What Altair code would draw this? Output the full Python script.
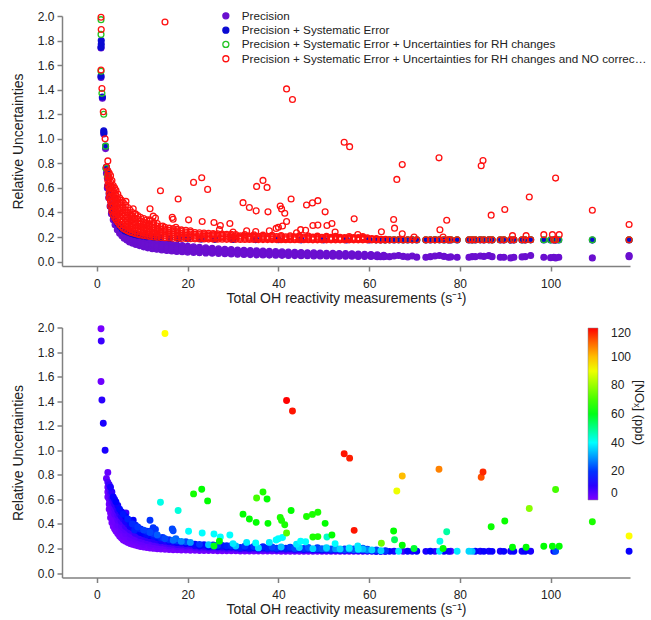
import altair as alt
import pandas as pd

SERIES = [
    "Precision",
    "Precision + Systematic Error",
    "Precision + Systematic Error + Uncertainties for RH changes",
    "Precision + Systematic Error + Uncertainties for RH changes and NO correction",
]
FILL = ["#6a0fcf", "#0a0ad2", "transparent", "transparent"]
STROKE = ["#6a0fcf", "#0a0ad2", "#25c425", "#ff1010"]

x_ticks = [0, 20, 40, 60, 80, 100]
y_ticks = [0.0, 0.2, 0.4, 0.6, 0.8, 1.0, 1.2, 1.4, 1.6, 1.8, 2.0]
nox_ticks = [0, 20, 40, 60, 80, 100, 120]

# ---------------- Precision (purple) ----------------
prec_pts_x = [0.9, 0.9, 1.2, 1.5, 1.9, 2.0, 2.1]
prec_pts_y = [1.74, 1.50, 1.33, 1.04, 0.92, 0.76, 0.72]
prec_band_x = [2.3, 2.6, 2.9, 3.2, 3.6, 4.0, 4.5, 5.0, 5.5, 6.0,
               6.6, 7.2, 7.9, 8.6, 9.4, 10.3, 11.2, 12.2, 13.2, 14.3,
               15.4, 16.5, 17.6, 18.8, 20.0, 21.3, 22.6, 24.0, 25.4, 26.8,
               28.2, 29.6, 31.0, 32.4, 33.8, 35.2, 36.6, 38.0, 39.4, 40.8,
               42.2, 43.6, 45.0, 46.4, 47.8, 49.2, 50.6, 52.0, 53.4, 54.8,
               56.2, 57.6, 59.0, 60.4, 61.8, 63.2]
prec_band_y = [
    [0.60, 0.68], [0.52, 0.60], [0.45, 0.53], [0.39, 0.47], [0.34, 0.42],
    [0.30, 0.37], [0.26, 0.32, 0.29], [0.23, 0.29, 0.26], [0.21, 0.27, 0.24], [0.19, 0.25, 0.22],
    [0.175, 0.235, 0.205], [0.16, 0.22, 0.19], [0.15, 0.21, 0.18], [0.14, 0.20, 0.17], [0.13, 0.19, 0.16],
    [0.12, 0.18, 0.15], [0.112, 0.17, 0.14], [0.105, 0.165, 0.135], [0.10, 0.16, 0.13], [0.095, 0.152, 0.123],
    [0.09, 0.146, 0.118], [0.086, 0.14, 0.113], [0.083, 0.135, 0.109], [0.08, 0.13, 0.105], [0.077, 0.125, 0.101],
    [0.074, 0.12, 0.097], [0.072, 0.116, 0.094], [0.07, 0.112, 0.091], [0.068, 0.108, 0.088], [0.066, 0.104, 0.085],
    [0.064, 0.10, 0.082], [0.062, 0.097, 0.08], [0.06, 0.094, 0.077], [0.058, 0.091, 0.075], [0.057, 0.089, 0.073],
    [0.055, 0.087, 0.071], [0.054, 0.085, 0.069], [0.053, 0.083, 0.068], [0.052, 0.081], [0.051, 0.079, 0.065],
    [0.05, 0.077], [0.049, 0.075, 0.062], [0.048, 0.074], [0.047, 0.072, 0.06], [0.046, 0.071],
    [0.046, 0.07, 0.058], [0.045, 0.068], [0.044, 0.067, 0.055], [0.044, 0.066], [0.043, 0.065, 0.054],
    [0.043, 0.064], [0.042, 0.062, 0.052], [0.042, 0.06], [0.041, 0.058, 0.05], [0.04, 0.055],
    [0.04, 0.052],
]

# sparse measurements above 60 s-1
sparse_x = [61.5, 62.5, 63.5, 64.5, 65.5, 66.5, 67.5, 68.5, 69.5, 70.5,
            72.5, 73.5, 74.5, 75.5, 76.5, 77.5, 78.0, 79.4, 82.0, 82.7,
            83.4, 84.5, 85.3, 86.4, 87.1, 88.9, 89.7, 91.2, 91.9, 93.7,
            94.4, 95.6, 98.5, 100.0, 100.7, 101.1, 101.8, 109.2, 117.3]
prec_sparse_y = [0.045, 0.04, 0.042, 0.04, 0.045, 0.05, 0.042, 0.038, 0.045, 0.036,
                 0.035, 0.04, 0.045, 0.05, 0.042, 0.035, 0.038, 0.035, 0.035, 0.04,
                 0.04, 0.045, 0.042, 0.048, 0.04, 0.035, 0.035, 0.03, 0.035, 0.038,
                 0.04, 0.05, 0.035, 0.032, 0.035, 0.03, 0.035, 0.03, 0.04]
prec_extra_x = [117.3]
prec_extra_y = [0.048]

# ---------------- Precision + Systematic (blue) ----------------
sys_x = [0.95, 0.95, 0.9, 0.9, 1.2, 1.5, 1.55, 1.9, 2.1, 2.2, 2.4, 2.7,
         3.0, 3.3, 3.7, 4.1, 4.6, 5.1, 5.6, 6.2, 6.8, 7.5,
         8.2, 9.0, 10.0, 11.0, 12.5, 14.0, 16.0, 18.0, 20.0, 23.0,
         26.0, 30.0, 35.0, 40.0, 45.0, 50.0, 55.0, 60.0]
sys_y = [1.80, 1.77, 1.745, 1.51, 1.34, 1.065, 1.05, 0.94, 0.77, 0.75, 0.62, 0.55,
         0.45, 0.41, 0.37, 0.34, 0.31, 0.285, 0.265, 0.25, 0.24, 0.23,
         0.222, 0.215, 0.208, 0.203, 0.198, 0.194, 0.19, 0.187, 0.185, 0.183,
         0.181, 0.18, 0.179, 0.178, 0.177, 0.177, 0.176, 0.176]
sys_sparse_y = [0.177, 0.176, 0.176, 0.177, 0.176, 0.177, 0.176, 0.176, 0.177, 0.176,
                0.176, 0.176, 0.177, 0.177, 0.176, 0.176, 0.176, 0.176, 0.176, 0.176,
                0.176, 0.177, 0.176, 0.177, 0.176, 0.176, 0.176, 0.175, 0.176, 0.176,
                0.176, 0.177, 0.176, 0.176, 0.176, 0.175, 0.176, 0.175, 0.176]

# ---------------- + RH changes (green) ----------------
rh_x = [0.9, 0.9, 0.9, 1.1, 1.5, 1.9, 2.0, 2.3]
rh_y = [1.97, 1.85, 1.55, 1.37, 1.20, 0.94, 0.76, 0.70]
rh_sparse_y = [0.178, 0.178, 0.177, 0.178, 0.178, 0.178, 0.177, 0.178, 0.178, 0.178,
               0.177, 0.178, 0.178, 0.178, 0.177, 0.178, 0.178, 0.178, 0.178, 0.177,
               0.178, 0.178, 0.178, 0.178, 0.177, 0.178, 0.178, 0.178, 0.178, 0.177,
               0.178, 0.178, 0.178, 0.177, 0.178, 0.178, 0.178, 0.177, 0.178]

# ---------------- + RH changes and NO correction (red), with NOx ----------------
tot_pts_x = [0.9, 0.95, 0.9, 1.1, 1.4, 1.8, 2.4, 2.1,
             15.0, 41.8, 43.1, 54.5, 55.7, 75.4, 85.1, 84.7, 67.3, 66.1,
             101.1, 21.3, 23.1, 24.4, 14.0, 17.9, 35.2, 36.6, 37.5, 32.2,
             33.6, 35.1, 37.7, 40.4, 40.7, 41.4, 42.8, 41.8, 46.2, 47.5,
             48.7, 50.3, 47.6, 48.7, 50.7, 51.8, 56.7, 65.4, 65.6, 62.7,
             67.3, 77.1, 75.6, 86.9, 89.9, 95.3, 109.2, 117.3, 98.5, 100.4,
             101.9, 91.6, 94.6, 76.3, 69.9, 23.2, 20.2, 25.8, 27.2, 29.3,
             25.8, 27.0, 11.7, 12.4, 12.9, 11.7, 16.6, 16.8, 8.5, 8.3,
             6.4, 8.0, 14.5, 17.4, 40.0, 40.9, 39.5, 44.9, 46.0, 33.0,
             35.0, 38.0, 44.0, 30.0, 52.5, 57.5]
tot_pts_y = [1.99, 1.89, 1.56, 1.41, 1.22, 1.00, 0.82, 0.77,
             1.951, 1.406, 1.32, 0.972, 0.936, 0.845, 0.823, 0.78, 0.79, 0.669,
             0.68, 0.645, 0.683, 0.588, 0.577, 0.51, 0.612, 0.661, 0.604, 0.48,
             0.44, 0.413, 0.405, 0.453, 0.429, 0.394, 0.51, 0.326, 0.461, 0.478,
             0.496, 0.405, 0.294, 0.297, 0.294, 0.31, 0.348, 0.343, 0.272, 0.243,
             0.227, 0.337, 0.259, 0.378, 0.424, 0.526, 0.418, 0.302, 0.219, 0.219,
             0.219, 0.211, 0.211, 0.20, 0.20, 0.326, 0.34, 0.318, 0.294, 0.31,
             0.22, 0.26, 0.43, 0.37, 0.355, 0.34, 0.36, 0.345, 0.39, 0.35,
             0.49, 0.43, 0.29, 0.28, 0.28, 0.29, 0.27, 0.26, 0.255, 0.25,
             0.245, 0.25, 0.235, 0.24, 0.24, 0.22]
tot_pts_nox = [1, 8, 2, 10, 12, 12, 3, 3,
               92, 120, 118, 118, 117, 107, 116, 112, 100, 90,
               70, 64, 62, 62, 42, 43, 70, 65, 62, 62,
               62, 62, 62, 65, 65, 65, 62, 72, 65, 65,
               65, 62, 65, 65, 45, 62, 118, 62, 55, 75,
               62, 48, 42, 63, 63, 78, 65, 92, 62, 62,
               62, 62, 62, 62, 58, 40, 40, 40, 40, 40,
               60, 62, 20, 20, 20, 20, 22, 22, 18, 18,
               8, 15, 20, 25, 40, 40, 40, 40, 40, 38,
               40, 38, 38, 38, 40, 38]

tot_band_x = [2.4, 2.7, 3.0, 3.3, 3.6, 3.9, 4.2, 4.6, 5.0, 5.4,
              5.8, 6.3, 6.8, 7.3, 7.8, 8.4, 9.0, 9.6, 10.3, 11.0,
              11.7, 12.5, 13.3, 14.1, 15.0, 15.9, 16.8, 17.7, 18.6, 19.6,
              20.6, 21.6, 22.6, 23.6, 24.6, 25.6, 26.6, 27.6, 28.6, 29.6,
              30.6, 31.6, 32.6, 33.6, 34.6, 35.6, 36.6, 37.6, 38.6, 39.6,
              40.6, 41.6, 42.6, 43.6, 44.6, 45.6, 46.6, 47.6, 48.6, 49.6,
              50.6, 51.6, 52.6, 53.6, 54.6, 55.6, 56.6, 57.6, 58.6, 59.6,
              60.6, 61.6, 62.6, 63.6]
tot_band_y = [
    [0.62, 0.66, 0.70, 0.74],
    [0.52, 0.56, 0.60, 0.64, 0.68, 0.72],
    [0.45, 0.49, 0.53, 0.57, 0.61, 0.65, 0.70],
    [0.41, 0.45, 0.49, 0.53, 0.57, 0.61, 0.66],
    [0.38, 0.42, 0.46, 0.50, 0.54, 0.58, 0.62],
    [0.36, 0.40, 0.44, 0.48, 0.52, 0.56, 0.60],
    [0.34, 0.38, 0.42, 0.46, 0.50, 0.54, 0.58],
    [0.32, 0.355, 0.39, 0.43, 0.47, 0.51, 0.55],
    [0.30, 0.335, 0.37, 0.405, 0.44, 0.48, 0.52],
    [0.285, 0.32, 0.35, 0.385, 0.42, 0.46, 0.50],
    [0.27, 0.30, 0.335, 0.37, 0.40, 0.44, 0.48],
    [0.26, 0.29, 0.32, 0.35, 0.38, 0.42, 0.46],
    [0.25, 0.28, 0.305, 0.335, 0.365, 0.40, 0.44],
    [0.24, 0.265, 0.29, 0.32, 0.35, 0.38, 0.42],
    [0.235, 0.26, 0.285, 0.31, 0.34, 0.37, 0.40],
    [0.228, 0.25, 0.275, 0.30, 0.325, 0.355, 0.385],
    [0.222, 0.245, 0.268, 0.29, 0.315, 0.345, 0.375],
    [0.217, 0.24, 0.26, 0.283, 0.305, 0.33, 0.36],
    [0.212, 0.233, 0.255, 0.275, 0.297, 0.32, 0.35],
    [0.208, 0.228, 0.248, 0.268, 0.29, 0.312, 0.34],
    [0.204, 0.223, 0.242, 0.262, 0.283, 0.305, 0.33],
    [0.201, 0.219, 0.237, 0.256, 0.276, 0.30, 0.32],
    [0.198, 0.215, 0.233, 0.251, 0.27, 0.29, 0.31],
    [0.196, 0.212, 0.229, 0.246, 0.264, 0.285],
    [0.194, 0.209, 0.225, 0.242, 0.259, 0.28],
    [0.192, 0.207, 0.222, 0.238, 0.255, 0.272],
    [0.19, 0.205, 0.22, 0.235, 0.251, 0.268],
    [0.189, 0.203, 0.217, 0.232, 0.248, 0.262],
    [0.188, 0.201, 0.215, 0.229, 0.244, 0.258],
    [0.187, 0.20, 0.213, 0.227, 0.241, 0.255],
    [0.186, 0.198, 0.211, 0.224, 0.238, 0.25],
    [0.185, 0.197, 0.209, 0.222, 0.236],
    [0.184, 0.196, 0.208, 0.22, 0.234],
    [0.184, 0.195, 0.207, 0.219, 0.232],
    [0.183, 0.194, 0.205, 0.217, 0.23],
    [0.183, 0.193, 0.204, 0.216, 0.228],
    [0.182, 0.192, 0.203, 0.214, 0.226],
    [0.182, 0.192, 0.202, 0.213, 0.225],
    [0.181, 0.191, 0.201, 0.212, 0.223],
    [0.181, 0.19, 0.20, 0.211, 0.222],
    [0.181, 0.19, 0.20, 0.21, 0.221],
    [0.18, 0.189, 0.199, 0.209],
    [0.18, 0.189, 0.198, 0.208, 0.219],
    [0.18, 0.188, 0.197, 0.207],
    [0.18, 0.188, 0.197, 0.206, 0.217],
    [0.179, 0.187, 0.196, 0.205],
    [0.179, 0.187, 0.196, 0.205, 0.215],
    [0.179, 0.187, 0.195, 0.204],
    [0.179, 0.186, 0.195, 0.204, 0.213],
    [0.179, 0.186, 0.194, 0.203],
    [0.178, 0.186, 0.194, 0.203, 0.212],
    [0.178, 0.186, 0.194, 0.202],
    [0.178, 0.185, 0.193, 0.202, 0.21],
    [0.178, 0.185, 0.193, 0.201],
    [0.178, 0.185, 0.193, 0.201, 0.209],
    [0.178, 0.185, 0.192, 0.20],
    [0.178, 0.185, 0.192, 0.20, 0.208],
    [0.177, 0.184, 0.192, 0.199],
    [0.177, 0.184, 0.191, 0.199, 0.207],
    [0.177, 0.184, 0.191, 0.198],
    [0.177, 0.184, 0.191, 0.198, 0.206],
    [0.177, 0.184, 0.19, 0.197],
    [0.177, 0.183, 0.19, 0.197, 0.205],
    [0.177, 0.183, 0.19, 0.197],
    [0.177, 0.183, 0.19, 0.196],
    [0.177, 0.183, 0.189, 0.196, 0.204],
    [0.177, 0.183, 0.189, 0.196],
    [0.177, 0.183, 0.189, 0.195],
    [0.177, 0.182, 0.189, 0.195, 0.203],
    [0.177, 0.182, 0.188, 0.194],
    [0.177, 0.182, 0.188],
    [0.177, 0.182, 0.188],
    [0.177, 0.182],
    [0.177, 0.182],
]
tot_band_nox = [
    [2, 1, 3, 6],
    [1, 2, 2, 3, 5, 8],
    [1, 1, 2, 3, 4, 6, 12],
    [1, 1, 2, 3, 5, 8, 10],
    [1, 2, 2, 3, 4, 7, 14],
    [1, 1, 2, 4, 5, 9, 12],
    [1, 2, 2, 3, 5, 8, 15],
    [1, 1, 3, 4, 6, 10, 13],
    [1, 2, 2, 3, 5, 9, 16],
    [1, 1, 3, 4, 6, 11, 14],
    [1, 2, 2, 4, 5, 10, 17],
    [1, 1, 3, 4, 7, 12, 15],
    [1, 2, 2, 3, 6, 11, 18],
    [1, 1, 3, 4, 7, 13, 16],
    [1, 2, 2, 4, 6, 12, 19],
    [1, 1, 3, 4, 8, 14, 17],
    [1, 2, 2, 4, 7, 13, 20],
    [1, 1, 3, 5, 8, 15, 18],
    [1, 2, 3, 4, 8, 14, 21],
    [1, 1, 2, 5, 9, 16, 19],
    [1, 2, 3, 4, 9, 15, 22],
    [1, 1, 3, 5, 10, 17, 20],
    [1, 2, 3, 5, 10, 16, 24],
    [1, 2, 3, 6, 12, 18],
    [1, 1, 3, 6, 11, 22],
    [1, 2, 4, 7, 13, 19],
    [1, 1, 3, 6, 12, 26],
    [1, 2, 4, 8, 14, 20],
    [1, 1, 3, 7, 13, 28],
    [1, 2, 4, 8, 15, 22],
    [1, 1, 3, 7, 14, 30],
    [1, 2, 5, 12, 16],
    [1, 3, 6, 14, 20],
    [1, 2, 5, 11, 16],
    [1, 3, 7, 15, 34],
    [1, 2, 5, 12, 18],
    [1, 3, 6, 14, 20],
    [1, 2, 5, 11, 17],
    [1, 3, 7, 14, 18],
    [1, 2, 5, 12, 19],
    [1, 3, 6, 16, 34],
    [1, 4, 10, 18],
    [1, 3, 7, 14, 20],
    [1, 4, 10, 17],
    [1, 3, 6, 16, 20],
    [1, 4, 12, 36],
    [1, 3, 7, 14, 18],
    [1, 4, 10, 18],
    [1, 3, 7, 18, 22],
    [1, 4, 12, 20],
    [1, 3, 7, 14, 34],
    [1, 4, 10, 18],
    [1, 3, 7, 16, 20],
    [2, 5, 12, 22],
    [1, 3, 10, 18, 36],
    [2, 6, 13, 20],
    [1, 4, 10, 20, 24],
    [2, 6, 14, 36],
    [1, 4, 12, 22, 20],
    [2, 8, 16, 24],
    [2, 6, 12, 28, 36],
    [3, 10, 18, 22],
    [2, 6, 14, 30, 20],
    [3, 10, 20, 36],
    [3, 12, 22, 20],
    [2, 8, 16, 32, 38],
    [3, 12, 24, 22],
    [4, 12, 26, 38],
    [3, 10, 18, 34, 24],
    [4, 13, 28, 20],
    [6, 14, 36],
    [8, 16, 22],
    [10, 36],
    [10, 20],
]
tot_base_x = [61.5, 62.5, 63.5, 64.5, 65.5, 66.5, 67.5, 68.5, 69.5, 70.5,
              72.5, 73.5, 74.5, 75.5, 76.5, 77.5, 78.0, 79.4, 82.0, 82.7,
              83.4, 84.5, 85.3, 86.4, 87.1, 88.9, 89.7, 91.2, 91.9, 93.7,
              94.4, 95.6, 100.7, 101.1, 117.3]
tot_base_y = [0.178, 0.177, 0.178, 0.177, 0.178, 0.178, 0.177, 0.178, 0.177, 0.178,
              0.177, 0.178, 0.177, 0.178, 0.178, 0.177, 0.178, 0.178, 0.178, 0.177,
              0.178, 0.178, 0.177, 0.178, 0.177, 0.178, 0.177, 0.178, 0.177, 0.178,
              0.177, 0.178, 0.177, 0.178, 0.178]
tot_base_nox = [12, 15, 10, 14, 12, 38, 8, 14, 12, 14,
                12, 15, 10, 38, 14, 12, 6, 38, 36, 34,
                14, 12, 14, 12, 14, 12, 14, 12, 14, 12,
                14, 12, 14, 22, 14]

# NOx colour scale stops (Igor-like rainbow)
nox_stops = [0, 15, 40, 62, 92, 106, 120]
nox_colors = ["#7f00ff", "#0000ff", "#00ffff", "#00ff00", "#ffff00", "#ff8c00", "#ff0000"]


def flatten(xs, nested):
    ox, oy = [], []
    for x, vals in zip(xs, nested):
        for v in vals:
            ox.append(x)
            oy.append(v)
    return ox, oy


# ---- build tables ----
rows = []
pbx, pby = flatten(prec_band_x, prec_band_y)
for x, y in zip(prec_pts_x + pbx + sparse_x + prec_extra_x,
                prec_pts_y + pby + prec_sparse_y + prec_extra_y):
    rows.append({"k": x, "u": y, "series": SERIES[0]})
for x, y in zip(sys_x + sparse_x, sys_y + sys_sparse_y):
    rows.append({"k": x, "u": y, "series": SERIES[1]})
for x, y in zip(rh_x + sparse_x, rh_y + rh_sparse_y):
    rows.append({"k": x, "u": y, "series": SERIES[2]})

tbx, tby = flatten(tot_band_x, tot_band_y)
_, tbn = flatten(tot_band_x, tot_band_nox)
tot_x = tot_pts_x + tbx + tot_base_x
tot_y = tot_pts_y + tby + tot_base_y
tot_n = tot_pts_nox + tbn + tot_base_nox
for x, y in zip(tot_x, tot_y):
    rows.append({"k": x, "u": y, "series": SERIES[3]})
top_df = pd.DataFrame(rows)

bot_df = pd.DataFrame({"k": tot_x, "u": tot_y, "nox": tot_n}).sort_values("nox", kind="stable")

# ---- shared axes ----
FONT = "Liberation Sans"
xscale = alt.Scale(domain=[-7.7, 117.5], nice=False, zero=False)
yscale = alt.Scale(domain=[-0.036, 2.0], nice=False, zero=False)
xaxis = alt.Axis(values=x_ticks, title="Total OH reactivity measurements (s⁻¹)",
                 labelPadding=7, titlePadding=2)
yaxis = alt.Axis(values=y_ticks, format=".1f", title="Relative Uncertainties",
                 labelPadding=3, titlePadding=12)

leg = alt.Legend(title=None, orient="none", legendX=158, legendY=-6,
                 labelFontSize=11.7, labelFont=FONT, labelColor="#222",
                 symbolSize=36, symbolStrokeWidth=1.3, symbolType="circle",
                 rowPadding=1.3, labelOffset=10, padding=0, labelLimit=405)

top = alt.Chart(top_df).mark_point(shape="circle", size=34, strokeWidth=1.3, opacity=1).encode(
    x=alt.X("k:Q", scale=xscale, axis=xaxis),
    y=alt.Y("u:Q", scale=yscale, axis=yaxis),
    fill=alt.Fill("series:N", scale=alt.Scale(domain=SERIES, range=FILL), legend=leg),
    stroke=alt.Stroke("series:N", scale=alt.Scale(domain=SERIES, range=STROKE), legend=leg),
).properties(width=568, height=250)

cleg = alt.Legend(title=None, orient="none", legendX=526, legendY=312, direction="vertical",
                  gradientLength=172, gradientThickness=10, values=nox_ticks,
                  labelOffset=13, labelBaseline="middle", labelFontSize=12, labelFont=FONT,
                  labelColor="#222", gradientStrokeColor="#888", gradientStrokeWidth=0.5,
                  padding=0)

pts = alt.Chart(bot_df).mark_circle(size=48, opacity=1).encode(
    x=alt.X("k:Q", scale=xscale, axis=xaxis),
    y=alt.Y("u:Q", scale=yscale, axis=yaxis),
    color=alt.Color("nox:Q", scale=alt.Scale(domain=nox_stops, range=nox_colors, interpolate="rgb"),
                    legend=cleg),
)
cbar_title = alt.Chart(alt.Data(values=[{"t": "[NOₓ] (ppb)"}])).mark_text(
    angle=90, fontSize=13, font=FONT, color="#222"
).encode(x=alt.value(577), y=alt.value(85), text="t:N")

bottom = alt.layer(pts, cbar_title).properties(width=568, height=250)

chart = alt.vconcat(top, bottom, spacing=16.5).properties(
    padding={"left": 11, "top": 10, "right": 0, "bottom": 0}
).configure_view(stroke=None).configure_axis(
    grid=False, domainColor="#808080", domainWidth=1.5, tickColor="#808080", tickWidth=1.5,
    tickSize=5, labelFont=FONT, labelFontSize=12, labelColor="#222",
    titleFont=FONT, titleFontSize=14, titleFontWeight="normal", titleColor="#222",
)

chart.save("out.html", embed_options={"renderer": "svg", "actions": False})
